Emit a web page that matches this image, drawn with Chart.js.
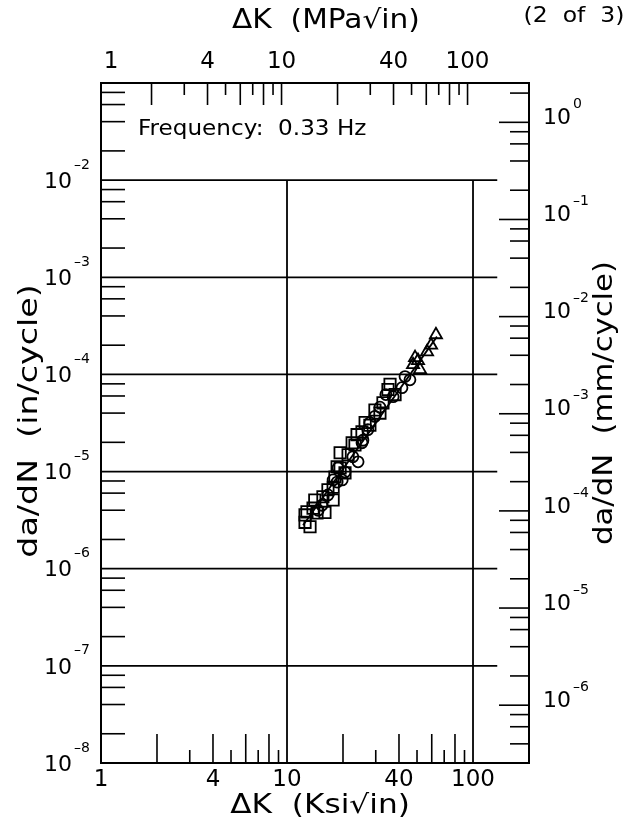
<!DOCTYPE html>
<html>
<head>
<meta charset="utf-8">
<script src="https://cdn.jsdelivr.net/npm/chart.js@4.4.0/dist/chart.umd.min.js"></script>
<style>
  html, body { margin: 0; padding: 0; background: #fff; }
</style>
</head>
<body>
<canvas id="chart" width="632" height="831"></canvas>
<script>
// ΔK in ksi√in, da/dN in in/cycle
const squareK = [12.5, 13.3, 12.8, 14.5, 14.1, 15.6, 16.6, 17.7, 18.6, 20.5, 19.3, 22.4, 23.8, 26.3, 31.6, 32.8, 34.9, 35.8,
  12.5, 13.8, 16.0, 17.7, 18.1, 19.3, 21.3, 23.2, 25.3, 27.9, 29.7, 38.1];
const squareRate = [3.0e-6, 2.7e-6, 3.85e-6, 3.75e-6, 5.1e-6, 5.5e-6, 6.5e-6, 5.1e-6, 1.12e-5, 9.7e-6, 1.56e-5, 1.98e-5, 2.4e-5, 3.2e-5, 4.0e-5, 5.1e-5, 7.0e-5, 7.9e-5,
  3.58e-6, 4.2e-6, 3.8e-6, 6.9e-6, 8.8e-6, 1.09e-5, 1.49e-5, 1.88e-5, 2.56e-5, 3.0e-5, 4.3e-5, 6.2e-5];
const circleK = [15.4, 17.7, 19.8, 18.8, 24.1, 25.6, 27.2, 29.7, 31.6, 37.2, 41.5, 43.1, 45.8,
  27.9, 25.3, 22.6, 20.5, 18.6, 16.6, 14.7, 34.0];
const circleRate = [4.5e-6, 8.2e-6, 8.2e-6, 1.09e-5, 1.26e-5, 2.1e-5, 2.7e-5, 3.7e-5, 4.6e-5, 5.9e-5, 7.3e-5, 9.5e-5, 8.8e-5,
  3.18e-5, 1.98e-5, 1.42e-5, 9.9e-6, 7.8e-6, 5.75e-6, 4.0e-6, 6.2e-5];
const triangleK = [47.6, 51.9, 48.8, 56.6, 63.2, 50.6, 59.5];
const triangleRate = [1.26e-4, 1.12e-4, 1.49e-4, 1.71e-4, 2.56e-4, 1.39e-4, 2.0e-4];
const fitK = [12.2, 64];
const fitRate = [2.8e-6, 2.45e-4];

// axes
const kRange = [1, 200];
const rateRange = [1e-8, 1e-1];
const mpaPerKsi = 1.07;
const mmPerIn = 25.4;
const xLabels = [1, 4, 10, 40, 100];
const xTicksLong = [2, 4, 6, 8, 20, 40, 60, 80];
const xTicksShort = [3, 5, 7, 9, 30, 50, 70, 90];
const xGrid = [10, 100];
const yGridExp = [-2, -3, -4, -5, -6, -7];
const leftExp = [-2, -3, -4, -5, -6, -7, -8];
const rightExp = [0, -1, -2, -3, -4, -5, -6];
const minorMantissa = [2, 4, 6, 8];
const gridEndK = 135;

const FONT = '"DejaVu Sans", sans-serif';

const toPoints = (xs, ys) => xs.map((x, i) => ({ x: x, y: ys[i] }));

function line(ctx, x1, y1, x2, y2) {
  ctx.beginPath();
  ctx.moveTo(x1, y1);
  ctx.lineTo(x2, y2);
  ctx.stroke();
}

// text drawn with a horizontal stretch (the original lettering is wide)
function wideText(ctx, text, x, y, sx, angle) {
  ctx.save();
  ctx.translate(x, y);
  if (angle) ctx.rotate(angle);
  ctx.scale(sx, 1);
  ctx.fillText(text, 0, 0);
  ctx.restore();
}

function power(ctx, exp, x, y, align, expLift) {
  // "10" with superscript exponent; x is left or right edge of the label
  ctx.font = '22px ' + FONT;
  const bw = ctx.measureText('10').width;
  ctx.font = '14px ' + FONT;
  const es = String(exp).replace('-', '\u2013');
  const ew = ctx.measureText(es).width;
  const left = align === 'right' ? x - bw - ew - 2 : x;
  ctx.textAlign = 'left';
  ctx.textBaseline = 'middle';
  ctx.font = '22px ' + FONT;
  ctx.fillText('10', left, y);
  ctx.font = '14px ' + FONT;
  ctx.fillText(es, left + bw + 2, y - expLift);
}

const axesPlugin = {
  id: 'axesPlugin',
  beforeDatasetsDraw(chart) {
    const { ctx, chartArea: a, scales } = chart;
    const x = scales.x, x2 = scales.x2, y = scales.y, y2 = scales.y2;
    ctx.save();
    ctx.strokeStyle = '#000';
    ctx.lineCap = 'butt';

    // grid lines
    ctx.lineWidth = 1.8;
    const gridEnd = x.getPixelForValue(gridEndK);
    yGridExp.forEach(e => {
      const py = y.getPixelForValue(Math.pow(10, e));
      line(ctx, a.left, py, gridEnd, py);
    });
    const gridTop = y.getPixelForValue(Math.pow(10, yGridExp[0]));
    xGrid.forEach(k => {
      const px = x.getPixelForValue(k);
      line(ctx, px, gridTop, px, a.bottom);
    });

    ctx.lineWidth = 1.6;
    // bottom ticks
    xTicksLong.forEach(k => { const px = x.getPixelForValue(k); line(ctx, px, a.bottom, px, a.bottom - 29); });
    xTicksShort.forEach(k => { const px = x.getPixelForValue(k); line(ctx, px, a.bottom, px, a.bottom - 13); });
    // top ticks (MPa scale)
    xTicksLong.concat(xGrid).forEach(k => { const px = x2.getPixelForValue(k); line(ctx, px, a.top, px, a.top + 22); });
    xTicksShort.forEach(k => { const px = x2.getPixelForValue(k); line(ctx, px, a.top, px, a.top + 12); });
    // left minor ticks
    for (let e = -8; e < -1; e++) {
      minorMantissa.forEach(m => {
        const py = y.getPixelForValue(m * Math.pow(10, e));
        line(ctx, a.left, py, a.left + 24, py);
      });
    }
    // right ticks (mm scale)
    for (let e = -7; e <= 0; e++) {
      const pd = y2.getPixelForValue(Math.pow(10, e));
      if (pd > a.top && pd < a.bottom) line(ctx, a.right, pd, a.right - 30, pd);
      minorMantissa.forEach(m => {
        const py = y2.getPixelForValue(m * Math.pow(10, e));
        if (py > a.top && py < a.bottom) line(ctx, a.right, py, a.right - 19, py);
      });
    }

    // frame
    ctx.lineWidth = 2;
    ctx.strokeRect(a.left, a.top, a.right - a.left, a.bottom - a.top);
    ctx.restore();
  },
  afterDraw(chart) {
    const { ctx, chartArea: a, scales } = chart;
    const x = scales.x, x2 = scales.x2, y = scales.y, y2 = scales.y2;
    ctx.save();
    ctx.fillStyle = '#000';

    // x tick labels
    ctx.font = '23px ' + FONT;
    ctx.textAlign = 'center';
    ctx.textBaseline = 'middle';
    xLabels.forEach(k => {
      ctx.fillText(String(k), x.getPixelForValue(k), a.bottom + 17);
      ctx.fillText(String(k), Math.max(x2.getPixelForValue(k), a.left + 10), a.top - 21);
    });

    // y tick labels
    leftExp.forEach(e => power(ctx, e, 90, y.getPixelForValue(Math.pow(10, e)) + 2, 'right', 17));
    rightExp.forEach(e => power(ctx, e, 543, y2.getPixelForValue(Math.pow(10, e)) - 4, 'left', 14));

    // axis titles
    ctx.font = '26px ' + FONT;
    ctx.textAlign = 'center';
    ctx.textBaseline = 'middle';
    wideText(ctx, '\u0394K  (MPa\u221Ain)', 326, 21, 1.14);
    wideText(ctx, '\u0394K  (Ksi\u221Ain)', 320, 806, 1.2);
    wideText(ctx, 'da/dN  (in/cycle)', 30, 421, 1.28, -Math.PI / 2);
    wideText(ctx, 'da/dN  (mm/cycle)', 605, 403, 1.18, -Math.PI / 2);

    ctx.font = '21px ' + FONT;
    wideText(ctx, '(2  of  3)', 574, 17, 1.12);

    ctx.font = '22px ' + FONT;
    ctx.textAlign = 'left';
    ctx.textBaseline = 'alphabetic';
    wideText(ctx, 'Frequency:  0.33 Hz', 138, 135, 1.05);
    ctx.restore();
  }
};

const fixSize = (w, h) => function (scale) {
  if (w !== null) scale.width = w;
  if (h !== null) scale.height = h;
};

const hiddenAxis = {
  type: 'logarithmic',
  grid: { display: false, drawTicks: false },
  border: { display: false },
  ticks: { display: false }
};

const markerBase = {
  type: 'scatter',
  showLine: false,
  borderColor: '#000',
  backgroundColor: 'rgba(0,0,0,0)',
  borderWidth: 1.8
};

new Chart(document.getElementById('chart'), {
  type: 'scatter',
  data: {
    datasets: [
      Object.assign({}, markerBase, { label: 'squares', data: toPoints(squareK, squareRate), pointStyle: 'rect', pointRadius: 8 }),
      Object.assign({}, markerBase, { label: 'circles', data: toPoints(circleK, circleRate), pointStyle: 'circle', pointRadius: 5.5 }),
      Object.assign({}, markerBase, { label: 'triangles', data: toPoints(triangleK, triangleRate), pointStyle: 'triangle', pointRadius: 7 }),
      {
        type: 'scatter',
        label: 'fit',
        data: toPoints(fitK, fitRate),
        showLine: true,
        borderColor: '#000',
        borderWidth: 1.8,
        pointRadius: 0
      }
    ]
  },
  options: {
    responsive: false,
    animation: false,
    devicePixelRatio: 1,
    layout: { padding: 0 },
    plugins: { legend: { display: false }, tooltip: { enabled: false } },
    scales: {
      x: Object.assign({}, hiddenAxis, { position: 'bottom', min: kRange[0], max: kRange[1], afterFit: fixSize(null, 68) }),
      x2: Object.assign({}, hiddenAxis, { position: 'top', min: kRange[0] * mpaPerKsi, max: kRange[1] * mpaPerKsi, afterFit: fixSize(null, 83) }),
      y: Object.assign({}, hiddenAxis, { position: 'left', min: rateRange[0], max: rateRange[1], afterFit: fixSize(101, null) }),
      y2: Object.assign({}, hiddenAxis, { position: 'right', min: rateRange[0] * mmPerIn, max: rateRange[1] * mmPerIn, afterFit: fixSize(103, null) })
    }
  },
  plugins: [axesPlugin]
});
</script>
</body>
</html>
